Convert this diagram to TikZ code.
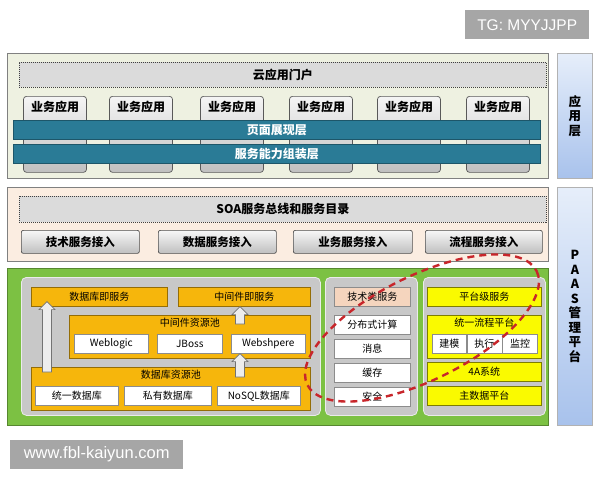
\documentclass[tikz,border=0pt]{standalone}
\usepackage{fontspec}
\setmainfont{Noto Sans CJK SC}
\newfontfamily\markfont{Liberation Sans}
\usetikzlibrary{positioning,calc}

\definecolor{appbg}{HTML}{EEF1E1}
\definecolor{soabg}{HTML}{FBEDE1}
\definecolor{paasgreen}{HTML}{7CC143}
\definecolor{barteal}{HTML}{2A7B96}
\definecolor{poolgray}{HTML}{C8C8C8}
\definecolor{dborange}{HTML}{F6B60C}
\definecolor{platyellow}{HTML}{FAFA00}
\definecolor{techpeach}{HTML}{F5D5BE}
\definecolor{sidetop}{HTML}{E6EEFA}
\definecolor{sidebottom}{HTML}{A8C2EC}
\definecolor{ringred}{HTML}{C8262B}
\definecolor{markgray}{HTML}{A6A6A6}

\tikzset{
  panel/.style={draw=black!50, line width=0.8pt, inner sep=0pt, anchor=north west},
  sidebar/.style={draw=black!30, line width=0.8pt, top color=sidetop, bottom color=sidebottom,
    inner sep=0pt, anchor=north west, minimum width=35, align=center,
    font=\bfseries\fontsize{12.5}{14.5}\selectfont},
  dashbox/.style={draw=black!75, dash pattern=on 1pt off 1pt, line width=0.8pt, fill=black!14,
    inner sep=0pt, anchor=north west, font=\bfseries\fontsize{12}{14}\selectfont},
  appbox/.style={draw=black!65, line width=0.7pt, rounded corners=3pt, top color=black!4,
    bottom color=black!25, minimum width=63, minimum height=76, inner sep=0pt, anchor=north},
  applabel/.style={anchor=north, inner sep=4.5pt, font=\bfseries\fontsize{12}{13}\selectfont},
  tealbar/.style={draw=barteal!70!black, fill=barteal, line width=0.8pt, minimum width=527,
    minimum height=19, inner sep=0pt, anchor=north west, text=white,
    font=\bfseries\fontsize{12}{14}\selectfont},
  accessbox/.style={draw=black!70, line width=0.7pt, rounded corners=2pt, top color=black!3,
    bottom color=black!25, minimum height=23, inner sep=0pt, anchor=north west,
    font=\bfseries\fontsize{11.5}{13}\selectfont},
  pool/.style={draw=black!8, fill=poolgray, line width=0.8pt, rounded corners=5pt,
    inner sep=0pt, anchor=north west},
  orangebox/.style={draw=dborange!60!black, fill=dborange, line width=0.6pt, inner sep=0pt,
    anchor=north west, minimum height=19, font=\fontsize{10}{12}\selectfont},
  yellowbox/.style={draw=platyellow!50!black, fill=platyellow, line width=0.6pt, inner sep=0pt,
    anchor=north west, minimum height=19, font=\fontsize{10}{12}\selectfont},
  poollabel/.style={anchor=north, inner sep=3pt, font=\fontsize{10}{12}\selectfont},
  cell/.style={draw=black!45, fill=white, line width=0.6pt, inner sep=0pt, anchor=north west,
    minimum height=19, font=\fontsize{10}{12}\selectfont},
  liftarrow/.style={draw=black!55, fill=black!7, line width=0.6pt},
  ring/.style={draw=ringred, line width=2.4pt, dash pattern=on 7pt off 5pt},
  markbox/.style={fill=markgray, text=white, inner sep=0pt, anchor=north west}
}

% upward block arrow from foot #1 to tip #2
\newcommand{\liftup}[2]{%
  \filldraw[liftarrow] ($(#1)+(-4.5,0)$) -- ($(#2)+(-4.5,8)$) -- ($(#2)+(-8,8)$) -- (#2)
    -- ($(#2)+(8,8)$) -- ($(#2)+(4.5,8)$) -- ($(#1)+(4.5,0)$) -- cycle;}

\begin{document}
\begin{tikzpicture}[x=1pt,y=1pt,yscale=-1]
\useasboundingbox (0,0) rectangle (600,480);

% application layer
\node[panel, fill=appbg, minimum width=541, minimum height=125] (apppanel) at (7,53) {};
\node[sidebar, minimum height=125] (appside) at (557,53) {应\\用\\层};
\node[dashbox, minimum width=527, minimum height=25] (portal) at (19,62) {云应用门户};
\foreach \x [count=\i] in {55,141,232,321,409,498}
  \node[appbox, label={[applabel]north:业务应用}] (app\i) at (\x,96) {};
\node[tealbar] (pagebar) at (13,120) {页面展现层};
\node[tealbar] (assemblybar) at (13,144) {服务能力组装层};

% SOA layer
\node[panel, fill=soabg, minimum width=541, minimum height=74] (soapanel) at (7,187) {};
\node[sidebar, minimum height=238] (paasside) at (557,187) {P\\A\\A\\S\\管\\理\\平\\台};
\node[dashbox, minimum width=527, minimum height=26] (soabus) at (19,196) {SOA服务总线和服务目录};
\foreach \x/\w/\t [count=\i] in {21/118/技术服务接入,158/118/数据服务接入,293/119/业务服务接入,425/117/流程服务接入}
  \node[accessbox, minimum width=\w] (access\i) at (\x,230) {\t};

% PAAS layer
\node[panel, draw=paasgreen!70!black, fill=paasgreen, minimum width=541, minimum height=157] (paaspanel) at (7,268) {};
\node[pool, minimum width=299, minimum height=138] (respool) at (21,277) {};
\node[pool, minimum width=92, minimum height=138] (techpool) at (325,277) {};
\node[pool, minimum width=122, minimum height=138] (platpool) at (423,277) {};

% resource pools
\node[orangebox, minimum width=136] (dbsvc) at (31,287) {数据库即服务};
\node[orangebox, minimum width=132] (mwsvc) at (178,287) {中间件即服务};
\node[orangebox, minimum width=241, minimum height=43, label={[poollabel]north:中间件资源池}] (mwpool) at (69,315) {};
\node[cell, minimum width=74] (weblogic) at (74,334) {Weblogic};
\node[cell, minimum width=65] (jboss) at (157,334) {JBoss};
\node[cell, minimum width=74] (websphere) at (231,334) {Webshpere};
\node[orangebox, minimum width=279, minimum height=43, label={[poollabel]north:数据库资源池}] (dbpool) at (31,367) {};
\node[cell, minimum width=83] (unidb) at (35,386) {统一数据库};
\node[cell, minimum width=87] (privdb) at (124,386) {私有数据库};
\node[cell, minimum width=83] (nosqldb) at (217,386) {NoSQL数据库};

\coordinate (dbfoot) at ($(dbpool.north west)+(16,5)$);
\coordinate (dbtip) at ($(dbsvc.south west)+(16,-5)$);
\coordinate (mwfoot) at ($(mwpool.north -| websphere.west)+(9,9)$);
\coordinate (mwtip) at ($(mwsvc.south -| websphere.west)+(9,0)$);
\coordinate (wsfoot) at ($(dbpool.north -| websphere.west)+(9,10)$);
\coordinate (wstip) at ($(websphere.south west)+(9,0)$);
\liftup{dbfoot}{dbtip}
\liftup{mwfoot}{mwtip}
\liftup{wsfoot}{wstip}

% technical services
\node[cell, fill=techpeach, minimum width=76] (techsvc) at (334,287) {技术类服务};
\foreach \y/\t [count=\i] in {315/分布式计算,339/消息,363/缓存,387/安全}
  \node[cell, minimum width=76] (tech\i) at (334,\y) {\t};

% platform services
\node[yellowbox, minimum width=114] (platsvc) at (427,287) {平台级服务};
\node[yellowbox, minimum width=114, minimum height=43, label={[poollabel]north:统一流程平台}] (flowpf) at (427,315) {};
\node[cell, minimum width=34] (modeling) at (432,334) {建模};
\node[cell, minimum width=35, right=0pt of modeling] (running) {执行};
\node[cell, minimum width=35, right=0pt of running] (monitor) {监控};
\node[yellowbox, minimum width=114] (aaasys) at (427,362) {4A系统};
\node[yellowbox, minimum width=114] (mdm) at (427,386) {主数据平台};

% red ring
\draw[ring, rotate around={-26.4:(422,328)}] (422,328) ellipse [x radius=128, y radius=52];

% marks
\node[markbox, minimum width=124, minimum height=29, font=\markfont\fontsize{15.5}{17}\selectfont] (tgmark) at (465,10) {TG: MYYJJPP};
\node[markbox, minimum width=173, minimum height=29, font=\markfont\fontsize{16.5}{18}\selectfont] (sitemark) at (10,440) {www.fbl-kaiyun.com};

\end{tikzpicture}
\end{document}
